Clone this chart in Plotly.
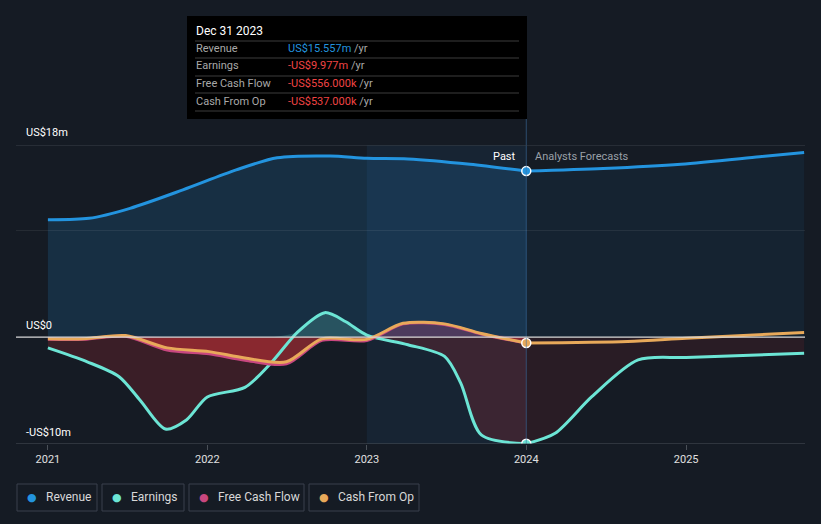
import plotly.graph_objects as go

# ---------------- data (US$ millions) ----------------
rev_past_dates = ['2021-01-01', '2021-04-05', '2021-07-08', '2021-11-06', '2022-03-08',
                  '2022-06-10', '2022-10-09', '2023-01-01', '2023-04-05', '2023-08-25', '2024-01-01']
rev_past = [11.0, 11.13, 12.07, 13.8, 15.67, 16.8, 16.97, 16.75, 16.7, 16.2, 15.557]

rev_fc_dates = ['2024-01-01', '2024-06-25', '2024-12-20', '2025-06-18', '2025-09-28']
rev_fc = [15.557, 15.8, 16.2, 16.9, 17.3]

earn_past_dates = ['2021-01-01', '2021-04-01', '2021-06-13', '2021-07-31', '2021-09-27', '2021-11-14',
                   '2022-01-01', '2022-03-28', '2022-05-27', '2022-07-27', '2022-09-27', '2022-11-14',
                   '2023-01-01', '2023-04-05', '2023-06-28', '2023-08-04', '2023-09-20', '2024-01-01']
earn_past = [-1.0, -2.3, -3.7, -5.9, -8.6, -7.75, -5.6, -4.7, -2.4, 0.5, 2.3, 1.45,
             0.2, -0.7, -1.8, -4.3, -9.15, -9.977]

earn_fc_dates = ['2024-01-01', '2024-03-07', '2024-05-30', '2024-09-13', '2025-01-01', '2025-09-28']
earn_fc = [-9.977, -9.0, -5.57, -2.13, -1.9, -1.5]

cf_past_dates = ['2021-01-01', '2021-03-25', '2021-06-28', '2021-10-01', '2022-01-05', '2022-03-28',
                 '2022-07-01', '2022-09-20', '2023-01-01', '2023-03-25', '2023-06-28', '2023-09-20',
                 '2024-01-01']
cfo_past = [-0.15, -0.15, 0.15, -1.0, -1.35, -1.95, -2.3, -0.15, -0.2, 1.3, 1.25, 0.35, -0.537]
fcf_past = [-0.2, -0.2, 0.1, -1.2, -1.55, -2.15, -2.5, -0.3, -0.3, 1.25, 1.2, 0.3, -0.556]

cfo_fc_dates = ['2024-01-01', '2024-08-20', '2025-01-01', '2025-09-28']
cfo_fc = [-0.537, -0.4, -0.1, 0.45]

x_ticks = ['2021-01-01', '2022-01-01', '2023-01-01', '2024-01-01', '2025-01-01']
x_tick_text = ['2021', '2022', '2023', '2024', '2025']

# ---------------- styling ----------------
BG = '#151b24'
C_REV = '#2394df'
C_EARN = '#6ce5d5'
C_FCF = '#c8477f'
C_CFO = '#e8a95a'
FONT = 'Roboto'

W, H = 821, 524
L, R, T, B = 16, 805, 145, 444


def px(xp):
    return (xp - L) / (R - L)


def py(yp):
    return (B - yp) / (B - T)


fig = go.Figure()
SPL = dict(shape='spline', smoothing=0.8)

# revenue fills
fig.add_trace(go.Scatter(x=rev_past_dates, y=rev_past, mode='lines', line=dict(color=C_REV, width=3, **SPL),
                         fill='tozeroy', fillcolor='rgba(35,148,223,0.17)', hoverinfo='skip', showlegend=False))
fig.add_trace(go.Scatter(x=rev_fc_dates, y=rev_fc, mode='lines', line=dict(color=C_REV, width=3, **SPL),
                         fill='tozeroy', fillcolor='rgba(35,148,223,0.07)', hoverinfo='skip', showlegend=False))

# earnings fill (negative part red, positive part teal)
earn_neg = [min(v, 0) for v in earn_past]
earn_pos = [max(v, 0) for v in earn_past]
fig.add_trace(go.Scatter(x=earn_past_dates, y=earn_neg, mode='lines', line=dict(width=0, **SPL),
                         fill='tozeroy', fillcolor='rgba(190,40,50,0.22)', hoverinfo='skip', showlegend=False))
fig.add_trace(go.Scatter(x=earn_past_dates, y=earn_pos, mode='lines', line=dict(width=0, **SPL),
                         fill='tozeroy', fillcolor='rgba(108,229,213,0.2)', hoverinfo='skip', showlegend=False))
fig.add_trace(go.Scatter(x=earn_fc_dates, y=earn_fc, mode='lines', line=dict(width=0, **SPL),
                         fill='tozeroy', fillcolor='rgba(190,40,50,0.12)', hoverinfo='skip', showlegend=False))

# cash-flow fills
cfo_neg = [min(v, 0) for v in cfo_past]
fig.add_trace(go.Scatter(x=cf_past_dates, y=cfo_neg, mode='lines', line=dict(width=0, **SPL),
                         fill='tozeroy', fillcolor='rgba(215,50,55,0.5)', hoverinfo='skip', showlegend=False))
cfo_pos = [max(v, 0) for v in cfo_past]
fig.add_trace(go.Scatter(x=cf_past_dates, y=cfo_pos, mode='lines', line=dict(width=0, **SPL),
                         fill='tozeroy', fillcolor='rgba(200,71,127,0.3)', hoverinfo='skip', showlegend=False))

# lines
fig.add_trace(go.Scatter(x=earn_past_dates, y=earn_past, mode='lines', line=dict(color=C_EARN, width=3, **SPL),
                         hoverinfo='skip', showlegend=False))
fig.add_trace(go.Scatter(x=earn_fc_dates, y=earn_fc, mode='lines', line=dict(color=C_EARN, width=3, **SPL),
                         hoverinfo='skip', showlegend=False))
fig.add_trace(go.Scatter(x=cf_past_dates, y=fcf_past, mode='lines', line=dict(color=C_FCF, width=3, **SPL),
                         hoverinfo='skip', showlegend=False))
fig.add_trace(go.Scatter(x=cf_past_dates, y=cfo_past, mode='lines', line=dict(color=C_CFO, width=3, **SPL),
                         hoverinfo='skip', showlegend=False))
fig.add_trace(go.Scatter(x=cfo_fc_dates, y=cfo_fc, mode='lines', line=dict(color=C_CFO, width=3, **SPL),
                         hoverinfo='skip', showlegend=False))

# markers at Dec 31 2023
fig.add_trace(go.Scatter(x=[rev_past_dates[-1], earn_past_dates[-1], cf_past_dates[-1]],
                         y=[rev_past[-1], earn_past[-1], cfo_past[-1]], mode='markers',
                         marker=dict(size=9, color=[C_REV, C_EARN, C_CFO], line=dict(color='white', width=1.5)),
                         hoverinfo='skip', showlegend=False))

shapes = []
# highlight band last year
shapes.append(dict(type='rect', xref='x', yref='paper', x0='2023-01-01', x1='2024-01-01', y0=0, y1=1,
                   fillcolor='rgba(40,130,210,0.09)', line=dict(width=0), layer='below'))
# vertical line at 2024 up to tooltip
shapes.append(dict(type='line', xref='x', yref='paper', x0='2024-01-01', x1='2024-01-01', y0=0, y1=py(119),
                   line=dict(color='rgba(60,110,160,0.6)', width=1)))
# grid lines
shapes.append(dict(type='line', xref='paper', yref='y', x0=0, x1=1, y0=18, y1=18, line=dict(color='#3a4048', width=1)))
shapes.append(dict(type='line', xref='paper', yref='y', x0=0, x1=1, y0=10, y1=10, line=dict(color='rgba(255,255,255,0.08)', width=1)))
shapes.append(dict(type='line', xref='paper', yref='y', x0=0, x1=1, y0=0, y1=0, line=dict(color='#d8d8d8', width=1.2)))
shapes.append(dict(type='line', xref='paper', yref='y', x0=0, x1=1, y0=-10, y1=-10, line=dict(color='#4a5058', width=1.2)))

# tooltip box
shapes.append(dict(type='rect', xref='paper', yref='paper', x0=px(187), x1=px(527), y0=py(119), y1=py(16),
                   fillcolor='#000000', line=dict(width=0)))
for yy in [41, 58, 76, 93, 111]:
    shapes.append(dict(type='line', xref='paper', yref='paper', x0=px(195), x1=px(519), y0=py(yy), y1=py(yy),
                       line=dict(color='#3c3c3c', width=1)))

annotations = []


def ann(text, xp, yp, size=11, color='#ffffff', xanchor='left', yanchor='middle', family=FONT):
    annotations.append(dict(text=text, x=px(xp), y=py(yp), xref='paper', yref='paper', showarrow=False,
                            xanchor=xanchor, yanchor=yanchor, font=dict(family=family, size=size, color=color)))


ann('Dec 31 2023', 194, 31, size=12, color='#ffffff')
rows = [('Revenue', 'US$15.557m', C_REV, 48),
        ('Earnings', '-US$9.977m', '#f04444', 66),
        ('Free Cash Flow', '-US$556.000k', '#f04444', 84),
        ('Cash From Op', '-US$537.000k', '#f04444', 101)]
for lab, val, col, yy in rows:
    ann(lab, 194, yy, size=11, color='#a8a8a8')
    ann(f'<span style="color:{col}">{val}</span> /yr', 286, yy, size=11, color='#a8a8a8')

# y labels
ann('US$18m', 24, 132, size=11)
ann('US$0', 24, 325, size=11)
ann('-US$10m', 24, 432, size=11)

ann('Past', 518, 156, size=11, color='#ffffff', xanchor='right')
ann('Analysts Forecasts', 533, 156, size=11, color='#9aa0a8')

# legend
legend_items = [('Revenue', C_REV, 17, 97), ('Earnings', C_EARN, 102, 184),
                ('Free Cash Flow', C_FCF, 189, 304), ('Cash From Op', C_CFO, 309, 419)]
for name, col, x0, x1 in legend_items:
    shapes.append(dict(type='rect', xref='paper', yref='paper', x0=px(x0), x1=px(x1), y0=py(511), y1=py(484),
                       line=dict(color='#3a414c', width=1), fillcolor=BG))
    ann('●', x0 + 15, 497, size=11, color=col, xanchor='center', family='DejaVu Sans')
    ann(name, x0 + 27, 497, size=12, color='#d8d8d8')

fig.update_layout(
    width=W, height=H,
    margin=dict(l=L, r=W - R, t=T, b=H - B),
    paper_bgcolor=BG, plot_bgcolor=BG,
    showlegend=False,
    shapes=shapes, annotations=annotations,
    xaxis=dict(type='date', range=['2020-10-20', '2025-09-30'], tickvals=x_ticks, ticktext=x_tick_text,
               showgrid=False, zeroline=False, ticks='outside', ticklen=5, tickcolor='#4a5058',
               tickfont=dict(family=FONT, size=11, color='#e0e0e0'), showline=False, fixedrange=True),
    yaxis=dict(range=[-10, 18], showgrid=False, zeroline=False, showticklabels=False, fixedrange=True),
    hovermode=False,
)

fig.write_html('out.html')
